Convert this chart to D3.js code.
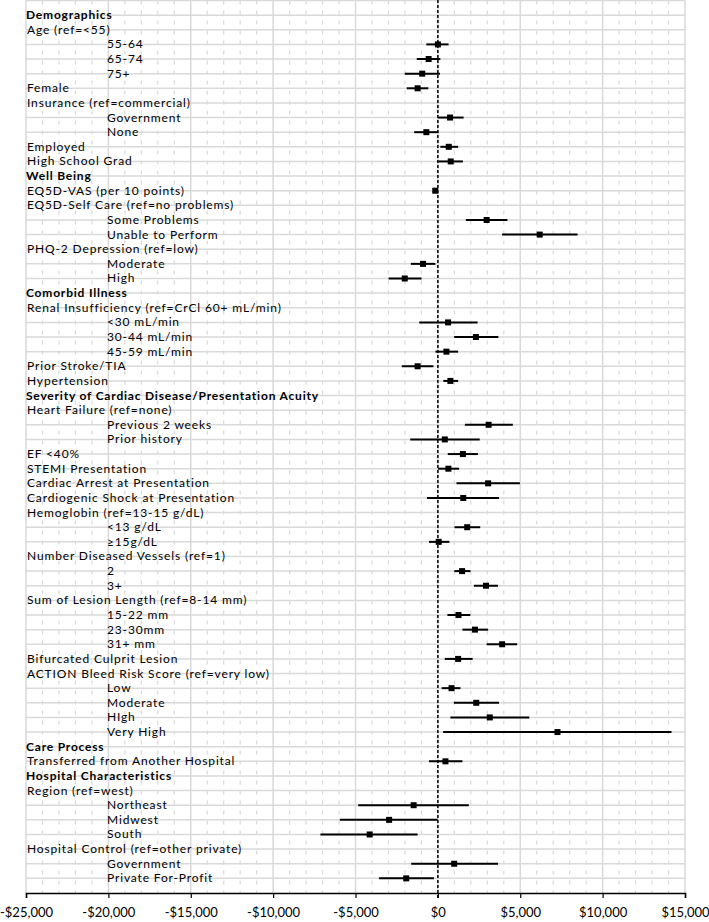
<!DOCTYPE html>
<html>
<head>
<meta charset="utf-8">
<script src="https://cdn.jsdelivr.net/npm/d3@7"></script>
<style>
  body { margin: 0; background: #fff; }
  svg { display: block; }
  .row-label { font-family: Lato, "Open Sans", sans-serif; font-size: 12px; letter-spacing: 0.85px; fill: #000; }
  .row-label.header { font-weight: bold; letter-spacing: 0.8px; }
  .x-axis text { font-family: Lato, "Open Sans", sans-serif; font-size: 13px; fill: #000; }
</style>
</head>
<body>
<svg width="709" height="922"></svg>
<script>
'use strict';

// one entry per row, top to bottom
const labels = [
  'Demographics', 'Age (ref=<55)', '55-64', '65-74', '75+', 'Female',
  'Insurance (ref=commercial)', 'Government', 'None', 'Employed', 'High School Grad',
  'Well Being', 'EQ5D-VAS (per 10 points)', 'EQ5D-Self Care (ref=no problems)',
  'Some Problems', 'Unable to Perform', 'PHQ-2 Depression (ref=low)', 'Moderate', 'High',
  'Comorbid Illness', 'Renal Insufficiency (ref=CrCl 60+ mL/min)', '<30 mL/min',
  '30-44 mL/min', '45-59 mL/min', 'Prior Stroke/TIA', 'Hypertension',
  'Severity of Cardiac Disease/Presentation Acuity', 'Heart Failure  (ref=none)',
  'Previous 2 weeks', 'Prior history', 'EF <40%', 'STEMI Presentation',
  'Cardiac Arrest at Presentation', 'Cardiogenic Shock at Presentation',
  'Hemoglobin (ref=13-15 g/dL)', '<13 g/dL', '\u226515g/dL',
  'Number Diseased Vessels (ref=1)', '2', '3+', 'Sum of Lesion Length (ref=8-14 mm)',
  '15-22 mm', '23-30mm', '31+ mm', 'Bifurcated Culprit Lesion',
  'ACTION Bleed Risk Score (ref=very low)', 'Low', 'Moderate', 'HIgh', 'Very High',
  'Care Process', 'Transferred from Another Hospital', 'Hospital Characteristics',
  'Region (ref=west)', 'Northeast', 'Midwest', 'South',
  'Hospital Control (ref=other private)', 'Government', 'Private For-Profit'
];

// 0 = section header, 1 = variable, 2 = level of a variable
const levels = [
  0, 1, 2, 2, 2, 1, 1, 2, 2, 1, 1,
  0, 1, 1, 2, 2, 1, 2, 2,
  0, 1, 2, 2, 2, 1, 1,
  0, 1, 2, 2, 1, 1, 1, 1, 1, 2, 2, 1, 2, 2, 1, 2, 2, 2, 1, 1, 2, 2, 2, 2,
  0, 1, 0, 1, 2, 2, 2, 1, 2, 2
];

const estimate = [
  null, null, 0, -560, -950, -1230, null, 740, -700, 660, 780,
  null, -160, null, 2960, 6180, null, -900, -2010,
  null, null, 620, 2310, 520, -1230, 760,
  null, null, 3080, 420, 1520, 640, 3050, 1540, null, 1780, 50,
  null, 1470, 2920, null, 1250, 2250, 3900, 1230, null, 830, 2330, 3150, 7260,
  null, 460, null, null, -1470, -2960, -4140, null, 990, -1920
];

const lower = [
  null, null, -700, -1280, -2010, -1890, null, 0, -1440, 150, 30,
  null, -300, null, 1700, 3900, null, -1640, -2990,
  null, null, -1130, 990, -150, -2190, 330,
  null, null, 1640, -1680, 600, 10, 1130, -660, null, 1010, -540,
  null, 1000, 2190, null, 580, 1490, 2960, 420, null, 230, 970, 760, 320,
  null, -540, null, null, -4840, -5950, -7130, null, -1620, -3570
];

const upper = [
  null, null, 650, 150, 130, -580, null, 1560, 30, 1230, 1520,
  null, -20, null, 4220, 8480, null, -150, -990,
  null, null, 2410, 3670, 1230, -270, 1230,
  null, null, 4550, 2540, 2430, 1290, 4980, 3710, null, 2570, 700,
  null, 1980, 3650, null, 1970, 3050, 4810, 2110, null, 1370, 3710, 5550, 14180,
  null, 1490, null, null, 1880, -10, -1230, null, 3650, -240
];

const xTicks = [-25000, -20000, -15000, -10000, -5000, 0, 5000, 10000, 15000];
const xMinor = d3.range(-25000, 15001, 1000).filter(v => v % 5000 !== 0);

const svg = d3.select('svg');

const rows = labels.map((label, i) => ({
  label,
  level: levels[i],
  row: i + 1,
  est: estimate[i],
  lo: lower[i],
  hi: upper[i]
}));

const plot = { left: 26, right: 685, top: 0.5, bottom: 893 };
const nRows = labels.length + 1;

const xScale = d3.scaleLinear()
  .domain([-25000, 15000])
  .range([plot.left, plot.right]);

const yScale = d3.scaleLinear()
  .domain([0, nRows])
  .range([plot.top, plot.bottom]);

const gridColor = '#d9d9d9';

// minor verticals (dashed)
svg.append('g').selectAll('line').data(xMinor)
  .enter().append('line')
    .attr('x1', d => xScale(d)).attr('x2', d => xScale(d))
    .attr('y1', plot.top).attr('y2', plot.bottom)
    .attr('stroke', gridColor)
    .attr('stroke-width', 1.2)
    .attr('stroke-dasharray', '4,6');

// row lines
svg.append('g').selectAll('line').data(d3.range(0, nRows))
  .enter().append('line')
    .attr('x1', plot.left).attr('x2', plot.right)
    .attr('y1', d => yScale(d)).attr('y2', d => yScale(d))
    .attr('stroke', gridColor)
    .attr('stroke-width', 1.5);

// major verticals
svg.append('g').selectAll('line').data(xTicks)
  .enter().append('line')
    .attr('x1', d => xScale(d)).attr('x2', d => xScale(d))
    .attr('y1', plot.top).attr('y2', plot.bottom)
    .attr('stroke', gridColor)
    .attr('stroke-width', 1.5);

const fmt = d => (d < 0 ? '-' : '') + '$' + d3.format(',')(Math.abs(d));

const xAxis = d3.axisBottom(xScale)
  .tickValues(xTicks)
  .tickSize(5)
  .tickPadding(10)
  .tickFormat(fmt);

const xAxisG = svg.append('g')
  .attr('class', 'x-axis')
  .attr('transform', `translate(0,${plot.bottom})`)
  .call(xAxis);

xAxisG.select('.domain').attr('stroke', '#000').attr('stroke-width', 1.5);
xAxisG.selectAll('.tick line').attr('stroke', '#000').attr('stroke-width', 1.2);

// reference line at zero
svg.append('line')
  .attr('x1', xScale(0)).attr('x2', xScale(0))
  .attr('y1', 0).attr('y2', plot.bottom + 5)
  .attr('stroke', '#000')
  .attr('stroke-width', 1.5)
  .attr('stroke-dasharray', '3,2');

// labels
const labelX = { 0: 26, 1: 27, 2: 107 };
svg.append('g').selectAll('text').data(rows)
  .enter().append('text')
    .attr('class', d => d.level === 0 ? 'row-label header' : 'row-label')
    .attr('x', d => labelX[d.level])
    .attr('y', d => yScale(d.row) - 0.5)
    .attr('dominant-baseline', 'central')
    .text(d => d.label);

// estimates with confidence intervals
const withCI = rows.filter(d => d.est !== null);

const marks = svg.append('g');

marks.selectAll('line').data(withCI)
  .enter().append('line')
    .attr('x1', d => xScale(d.lo))
    .attr('x2', d => xScale(d.hi))
    .attr('y1', d => yScale(d.row))
    .attr('y2', d => yScale(d.row))
    .attr('stroke', '#000')
    .attr('stroke-width', 2);

const box = 6;
marks.selectAll('rect').data(withCI)
  .enter().append('rect')
    .attr('x', d => xScale(d.est) - box / 2)
    .attr('y', d => yScale(d.row) - box / 2)
    .attr('width', box)
    .attr('height', box)
    .attr('fill', '#000');
</script>
</body>
</html>
